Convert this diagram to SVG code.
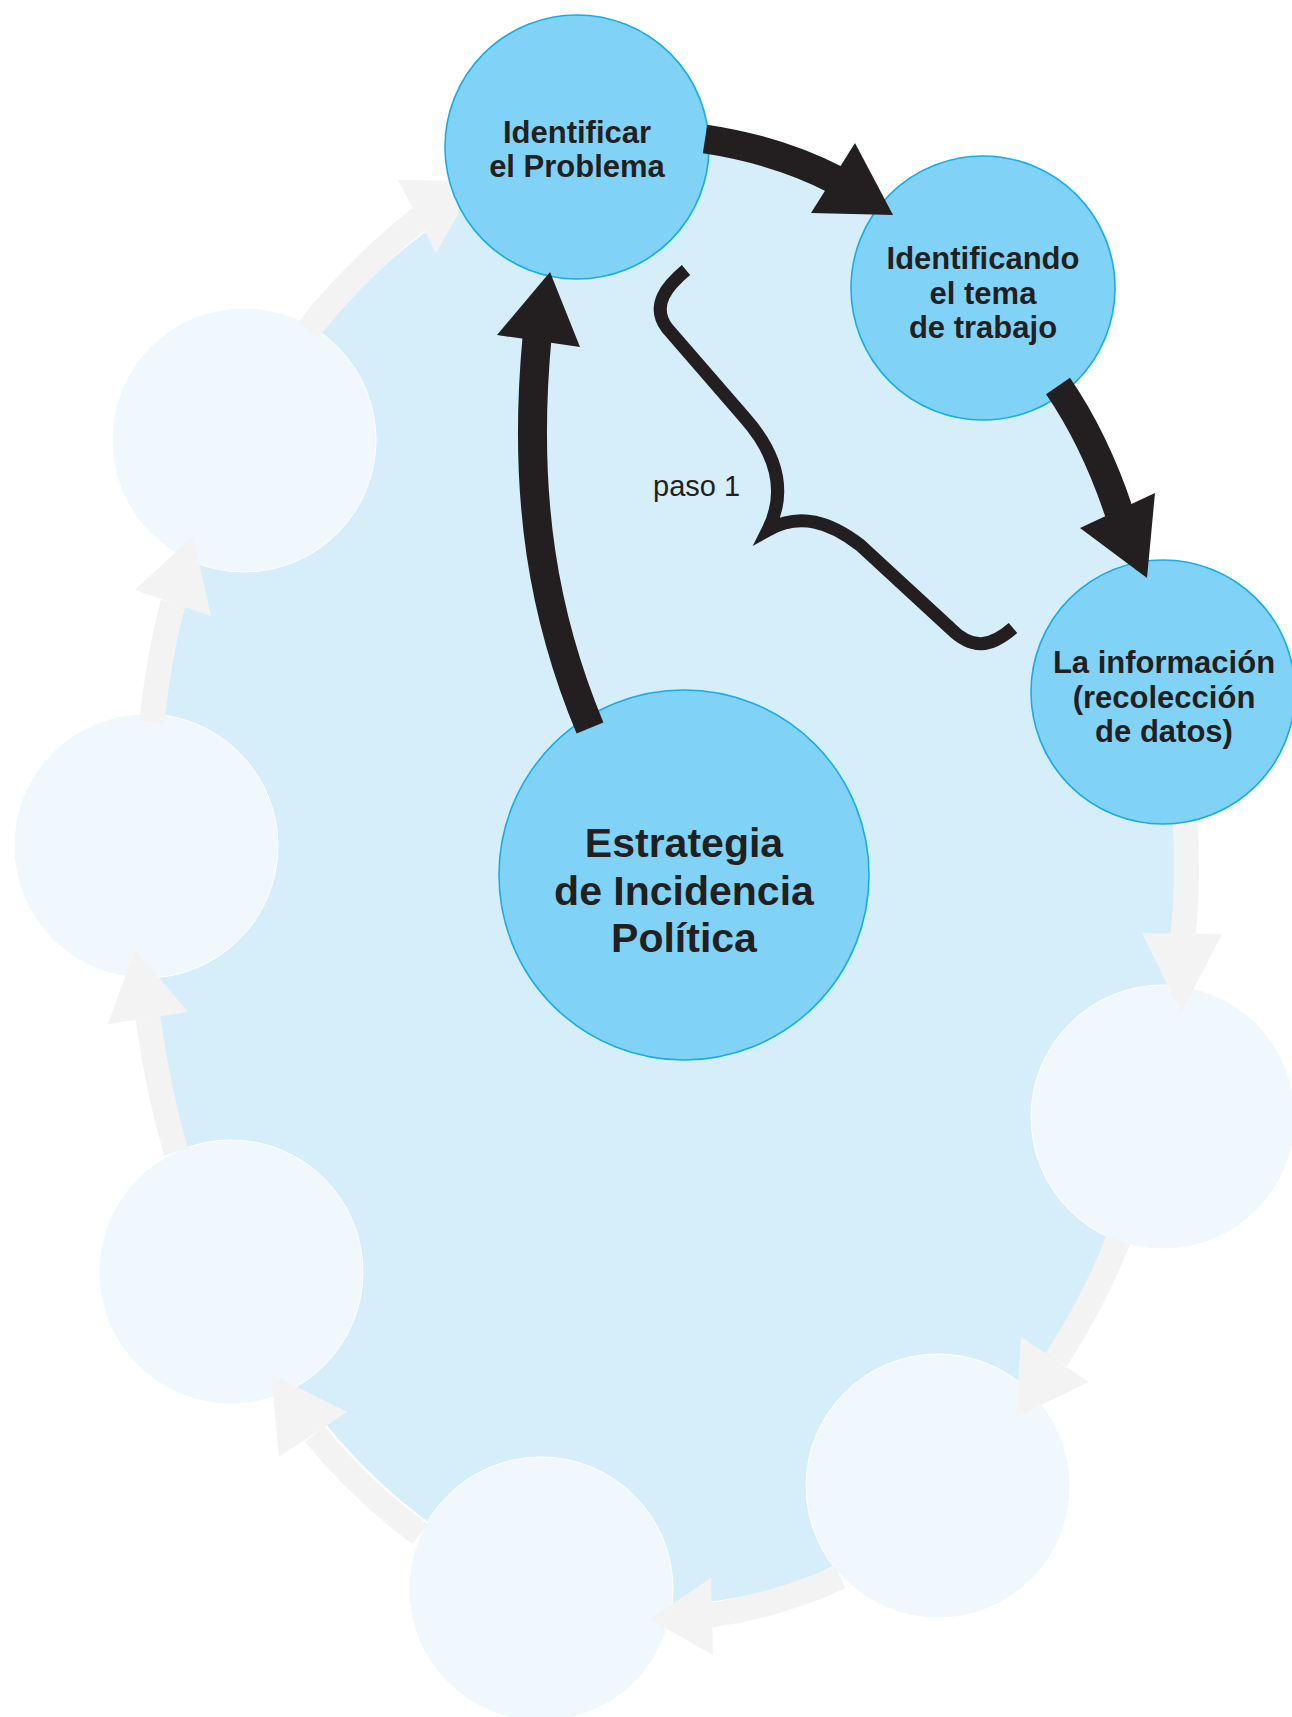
<svg xmlns="http://www.w3.org/2000/svg" width="1292" height="1717" viewBox="0 0 1292 1717">
<style>
.bg{fill:#d6eefa}
.act{fill:#80d3f6;stroke:#16ade8;stroke-width:1.6}
.fad{fill:#f0f8fd;stroke:#ffffff;stroke-width:1}
.gbody{fill:none;stroke:#f3f3f3;stroke-width:25}
.ghead{fill:#f3f3f3}
.bbody{fill:none;stroke:#231f20;stroke-width:29}
.bhead{fill:#231f20}
.t{font-family:"Liberation Sans",Arial,Helvetica,sans-serif;font-weight:bold;fill:#231f20;text-anchor:middle;font-size:31px}
.big{font-size:41px}
.lbl{font-family:"Liberation Sans",Arial,Helvetica,sans-serif;fill:#231f20;font-size:29px}
</style>
<rect width="1292" height="1717" fill="#ffffff"/>
<ellipse class="bg" cx="668" cy="876" rx="520" ry="728"/>
<g id="faded-nodes">
<circle id="n5" class="fad" cx="1163" cy="1117" r="132"/>
<circle id="n6" class="fad" cx="938" cy="1486" r="132"/>
<circle id="n7" class="fad" cx="541" cy="1589" r="132"/>
<circle id="n8" class="fad" cx="231" cy="1272" r="132"/>
<circle id="n9" class="fad" cx="146" cy="846" r="132"/>
<circle id="n10" class="fad" cx="244" cy="440" r="132"/>
</g>
<g id="cycle-connectors">
<path class="gbody" d="M 1185 820 Q 1189 880 1183 935"/>
<polygon class="ghead" points="1142,933 1222,934 1181,1013"/>
<path class="gbody" d="M 1118 1240 Q 1095 1300 1056 1360"/>
<polygon class="ghead" points="1021,1337 1089,1382 1016,1417"/>
<path class="gbody" d="M 840 1577 Q 780 1605 711 1615"/>
<polygon class="ghead" points="711,1578 713,1655 650,1619"/>
<path class="gbody" d="M 420 1534 Q 360 1490 315 1434"/>
<polygon class="ghead" points="279,1457 347,1412 271,1374"/>
<path class="gbody" d="M 176 1152 Q 158 1090 148 1018"/>
<polygon class="ghead" points="108,1024 188,1012 135,950"/>
<path class="gbody" d="M 152 722 Q 158 660 173 603"/>
<polygon class="ghead" points="135,590 211,616 193,536"/>
<path class="gbody" d="M 308 330 Q 355 270 420 218"/>
<polygon class="ghead" points="398,180 436,253 477,181"/>
</g>
<g id="n1">
<circle class="act" cx="577" cy="147" r="132"/>
<text class="t" x="577" y="143">Identificar</text>
<text class="t" x="577" y="177">el Problema</text>
</g>
<g id="n2">
<circle class="act" cx="983" cy="288" r="132"/>
<text class="t" x="983" y="269">Identificando</text>
<text class="t" x="983" y="304">el tema</text>
<text class="t" x="983" y="338">de trabajo</text>
</g>
<g id="n3">
<circle class="act" cx="1163" cy="692" r="132"/>
<text class="t" x="1164" y="673">La información</text>
<text class="t" x="1164" y="708">(recolección</text>
<text class="t" x="1164" y="742">de datos)</text>
</g>
<g id="n4">
<circle class="act" cx="684" cy="875" r="185"/>
<text class="t big" x="684" y="857">Estrategia</text>
<text class="t big" x="684" y="905">de Incidencia</text>
<text class="t big" x="684" y="952">Política</text>
</g>
<g id="main-connectors">
<path class="bbody" d="M 705 139 Q 778 150 836 180"/>
<polygon class="bhead" points="855,143 811,213 893,215"/>
<path class="bbody" d="M 1058 386 Q 1095 440 1119 512"/>
<polygon class="bhead" points="1080,528 1155,493 1147,578"/>
<path class="bbody" d="M 590 728 C 545 620, 522 500, 537 338"/>
<polygon class="bhead" points="550,272 497,335 580,347"/>
</g>
<g id="brace">
<path d="M 686 270 C 668 285, 650 305, 667 328 L 745 418 C 775 452, 788 490, 768 530 C 800 512, 830 522, 860 545 L 950 628 C 972 650, 990 648, 1013 628" fill="none" stroke="#231f20" stroke-width="13" stroke-linejoin="miter" stroke-miterlimit="10"/>
<text class="lbl" x="653" y="496">paso 1</text>
</g>
</svg>
